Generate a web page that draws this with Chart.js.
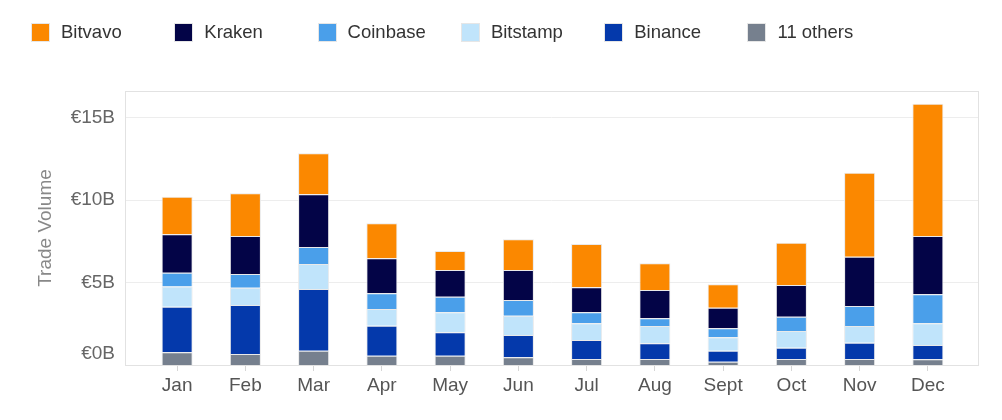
<!DOCTYPE html>
<html>
<head>
<meta charset="utf-8">
<script src="https://cdn.jsdelivr.net/npm/chart.js@4"></script>
<style>
  body { margin: 0; background: #fff; font-family: "Liberation Sans", Arial, sans-serif; }
  #wrap { position: relative; width: 1002px; height: 420px; }
  #legend { position: absolute; left: 31px; top: 21px; display: flex; }
  .item { width: 143.3px; display: flex; align-items: center; font-size: 18.5px; color: #333; }
  .box { width: 17px; height: 17px; margin-right: 11px; border: 1px solid #e6e6e6; box-sizing: content-box; }
</style>
</head>
<body>
<div id="wrap">
  <canvas id="chart" width="1002" height="420"></canvas>
  <div id="legend"></div>
</div>
<script>
// values in billions of euros, stacked bottom to top
const months = ["Jan", "Feb", "Mar", "Apr", "May", "Jun", "Jul", "Aug", "Sept", "Oct", "Nov", "Dec"];
const others   = [0.77, 0.67, 0.87, 0.56, 0.56, 0.47, 0.36, 0.36, 0.20, 0.36, 0.36, 0.35];
const binance  = [2.76, 2.97, 3.74, 1.82, 1.42, 1.35, 1.16, 0.96, 0.67, 0.69, 0.99, 0.86];
const bitstamp = [1.22, 1.04, 1.51, 1.01, 1.21, 1.17, 1.01, 1.04, 0.81, 1.01, 1.01, 1.32];
const coinbase = [0.84, 0.84, 1.03, 0.96, 0.95, 0.95, 0.66, 0.47, 0.54, 0.87, 1.22, 1.75];
const kraken   = [2.33, 2.30, 3.20, 2.12, 1.62, 1.82, 1.52, 1.72, 1.25, 1.92, 2.98, 3.54];
const bitvavo  = [2.28, 2.59, 2.48, 2.12, 1.15, 1.86, 2.62, 1.61, 1.42, 2.56, 5.09, 8.00];
const yTicks = [0, 5, 10, 15];

function ds(label, data, color) {
	return {
		label: label,
		data: data,
		backgroundColor: color,
		borderColor: '#e9e9e9',
		borderWidth: 1,
		barPercentage: 0.455,
		categoryPercentage: 1,
	};
}

const datasets = [
	ds("11 others", others, '#76808e'),
	ds("Binance", binance, '#0439ab'),
	ds("Bitstamp", bitstamp, '#c0e4fb'),
	ds("Coinbase", coinbase, '#4a9fea'),
	ds("Kraken", kraken, '#030447'),
	ds("Bitvavo", bitvavo, '#fb8800'),
];

// frame and horizontal grid, a bit wider than the category area
const framePlugin = {
	id: 'frame',
	beforeDatasetsDraw(chart) {
		const { ctx, chartArea: a, scales: { y } } = chart;
		const L = a.left - 18, R = a.right + 16;
		ctx.save();
		ctx.lineWidth = 1;
		ctx.strokeStyle = '#ededed';
		y.ticks.forEach(t => {
			if (t.value === 0) return;
			const py = Math.round(y.getPixelForValue(t.value)) + 0.5;
			ctx.beginPath();
			ctx.moveTo(L, py);
			ctx.lineTo(R, py);
			ctx.stroke();
		});
		ctx.strokeStyle = '#e2e2e2';
		ctx.strokeRect(L + 0.5, Math.round(a.top) + 0.5, R - L, Math.round(a.bottom - a.top));
		ctx.restore();
	}
};

const chart = new Chart(document.getElementById("chart"), {
	type: 'bar',
	data: { labels: months, datasets: datasets },
	options: {
		responsive: false,
		animation: false,
		devicePixelRatio: 1,
		layout: { padding: { left: 34, top: 91, right: 40, bottom: 0 } },
		plugins: { legend: { display: false }, tooltip: { enabled: false } },
		scales: {
			x: {
				stacked: true,
				offset: true,
				grid: { display: true, drawOnChartArea: false, drawTicks: true, tickLength: 6, color: '#d6d6d6', offset: false },
				border: { display: false },
				ticks: { color: '#555', padding: 3, font: { family: "Liberation Sans", size: 19 } },
				afterFit: s => { s.height = 55; },
			},
			y: {
				stacked: true,
				min: 0,
				max: 16.6,
				afterBuildTicks: s => { s.ticks = yTicks.map(v => ({ value: v })); },
				grid: { display: false, drawTicks: false },
				border: { display: false },
				ticks: {
					color: '#666',
					padding: 28,
					font: { family: "Liberation Sans", size: 19, lineHeight: 1.16 },
					callback: v => v === 0 ? ['€0B', ''] : '€' + v + 'B',
				},
				title: {
					display: true,
					text: 'Trade Volume',
					color: '#888',
					padding: 0,
					font: { family: "Liberation Sans", size: 19 },
				},
				afterFit: s => { s.width = 109; },
			}
		}
	},
	plugins: [framePlugin]
});

// html legend, same order as the original (top of stack first)
const legend = document.getElementById("legend");
datasets.slice().reverse().forEach(d => {
	const item = document.createElement("div");
	item.className = "item";
	const box = document.createElement("span");
	box.className = "box";
	box.style.background = d.backgroundColor;
	item.appendChild(box);
	item.appendChild(document.createTextNode(d.label));
	legend.appendChild(item);
});
</script>
</body>
</html>
